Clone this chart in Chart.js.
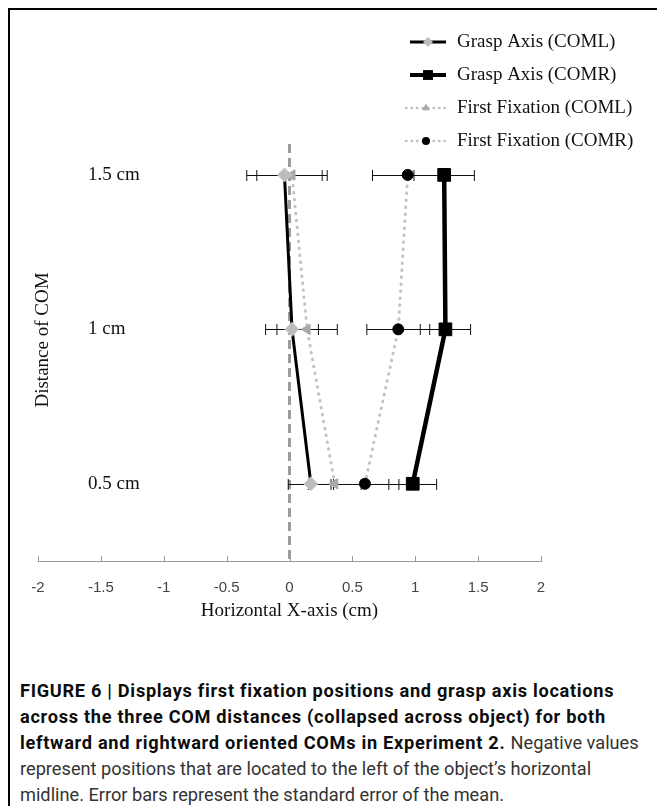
<!DOCTYPE html>
<html><head><meta charset="utf-8">
<script src="https://cdn.jsdelivr.net/npm/chart.js@4.4.1/dist/chart.umd.min.js"></script>
<style>
html,body{margin:0;padding:0;background:#fff;}
body{width:657px;height:806px;position:relative;overflow:hidden;}
#frameTop{position:absolute;left:8px;top:8px;width:649px;height:2px;background:#000;}
#frameLeft{position:absolute;left:8px;top:8px;width:2px;height:798px;background:#000;}
#c{position:absolute;left:0;top:0;}
.cap{position:absolute;left:20px;white-space:nowrap;font-family:Roboto,'Liberation Sans',sans-serif;font-size:18.2px;line-height:26px;}
.b{font-weight:bold;color:#0d0d0d;letter-spacing:0.7px;}
.n{color:#333;font-weight:normal;letter-spacing:0;}
</style></head><body>
<canvas id="c" width="657" height="640"></canvas>
<div id="frameTop"></div><div id="frameLeft"></div>
<div class="cap b" style="top:678px">FIGURE 6 | Displays first fixation positions and grasp axis locations</div>
<div class="cap b" style="top:704px">across the three COM distances (collapsed across object) for both</div>
<div class="cap b" style="top:730px">leftward and rightward oriented COMs in Experiment 2. <span class="n">Negative values</span></div>
<div class="cap n" style="top:756px">represent positions that are located to the left of the object’s horizontal</div>
<div class="cap n" style="top:782px">midline. Error bars represent the standard error of the mean.</div>
<script>
// ---- data ----
const yValues = [0.5, 1, 1.5];
const yLabels = ['0.5 cm', '1 cm', '1.5 cm'];
const xTicks = [-2, -1.5, -1, -0.5, 0, 0.5, 1, 1.5, 2];
const seriesNames = ['Grasp Axis (COML)', 'Grasp Axis (COMR)', 'First Fixation (COML)', 'First Fixation (COMR)'];
const graspCOML = [0.17, 0.02, -0.04];
const graspCOMLErr = [0.18, 0.21, 0.30];
const graspCOMR = [0.98, 1.24, 1.23];
const graspCOMRErr = [0.19, 0.20, 0.24];
const fixCOML = [0.36, 0.14, 0.02];
const fixCOMLErr = [0.21, 0.24, 0.28];
const fixCOMR = [0.60, 0.865, 0.94];
const fixCOMRErr = [0.27, 0.25, 0.28];
const xTitle = 'Horizontal X-axis (cm)';
const yTitle = 'Distance of COM';

const pts = arr => yValues.map((y, i) => ({x: arr[i], y: y}));
const serif = '"Liberation Serif", "Times New Roman", serif';

const datasets = [
  {label: seriesNames[0], data: pts(graspCOML), errors: graspCOMLErr,
   borderColor: '#000', borderWidth: 3, pointStyle: 'rectRot', pointRadius: 7,
   pointBackgroundColor: '#bcbcbc', pointBorderColor: '#cfcfcf', pointBorderWidth: 1,
   legendStyle: {lw: 3, dash: [], color: '#000', marker: 'rectRot', r: 5, fill: '#bcbcbc'}},
  {label: seriesNames[1], data: pts(graspCOMR), errors: graspCOMRErr,
   borderColor: '#000', borderWidth: 4.5, pointStyle: 'rect', pointRadius: 9,
   pointBackgroundColor: '#000', pointBorderColor: '#000', pointBorderWidth: 1,
   legendStyle: {lw: 4, dash: [], color: '#000', marker: 'rect', r: 7, fill: '#000'}},
  {label: seriesNames[2], data: pts(fixCOML), errors: fixCOMLErr,
   borderColor: '#c2c2c2', borderWidth: 3, borderDash: [0.5, 6.5], borderCapStyle: 'round',
   pointStyle: 'triangle', rotation: -90, pointRadius: 6,
   pointBackgroundColor: '#a9a9a9', pointBorderColor: '#a9a9a9', pointBorderWidth: 1,
   legendStyle: {lw: 2.5, dash: [0.5, 5], color: '#c2c2c2', marker: 'triangle', r: 4.5, fill: '#a9a9a9'}},
  {label: seriesNames[3], data: pts(fixCOMR), errors: fixCOMRErr,
   borderColor: '#c2c2c2', borderWidth: 3, borderDash: [0.5, 6.5], borderCapStyle: 'round',
   pointStyle: 'circle', pointRadius: 5.5,
   pointBackgroundColor: '#000', pointBorderColor: '#000', pointBorderWidth: 1,
   legendStyle: {lw: 2.5, dash: [0.5, 5], color: '#c2c2c2', marker: 'circle', r: 4, fill: '#000'}}
];

function marker(ctx, style, x, y, r) {
  ctx.beginPath();
  if (style === 'rect') {
    const s = r * Math.SQRT1_2;
    ctx.rect(x - s, y - s, 2 * s, 2 * s);
  } else if (style === 'rectRot') {
    ctx.moveTo(x, y - r); ctx.lineTo(x + r, y); ctx.lineTo(x, y + r); ctx.lineTo(x - r, y); ctx.closePath();
  } else if (style === 'triangle') {
    ctx.moveTo(x, y - r);
    ctx.lineTo(x + r * Math.sin(2 * Math.PI / 3), y - r * Math.cos(2 * Math.PI / 3));
    ctx.lineTo(x + r * Math.sin(4 * Math.PI / 3), y - r * Math.cos(4 * Math.PI / 3));
    ctx.closePath();
  } else {
    ctx.arc(x, y, r, 0, Math.PI * 2);
  }
  ctx.fill();
}

const decor = {
  id: 'decor',
  beforeDatasetsDraw(chart) {
    const {ctx, chartArea, scales: {x, y}} = chart;
    ctx.save();
    // upward tick marks on x axis
    ctx.strokeStyle = '#9a9a9a'; ctx.lineWidth = 1;
    xTicks.forEach(v => {
      const px = Math.round(x.getPixelForValue(v)) + 0.5;
      ctx.beginPath(); ctx.moveTo(px, chartArea.bottom - 5); ctx.lineTo(px, chartArea.bottom); ctx.stroke();
    });
    // dashed vertical axis at x = 0
    const x0 = x.getPixelForValue(0);
    ctx.strokeStyle = '#9c9c9c'; ctx.lineWidth = 3; ctx.setLineDash([9, 5]);
    ctx.beginPath(); ctx.moveTo(x0, chartArea.top); ctx.lineTo(x0, chartArea.bottom); ctx.stroke();
    ctx.setLineDash([]);
    // error bars
    ctx.strokeStyle = '#111'; ctx.lineWidth = 1;
    chart.data.datasets.forEach(ds => {
      ds.data.forEach((p, i) => {
        const e = ds.errors[i];
        const xa = x.getPixelForValue(p.x - e), xb = x.getPixelForValue(p.x + e);
        const py = Math.round(y.getPixelForValue(p.y)) + 0.5;
        ctx.beginPath();
        ctx.moveTo(xa, py); ctx.lineTo(xb, py);
        ctx.moveTo(xa, py - 5.5); ctx.lineTo(xa, py + 5.5);
        ctx.moveTo(xb, py - 5.5); ctx.lineTo(xb, py + 5.5);
        ctx.stroke();
      });
    });
    ctx.restore();
  },
  afterDraw(chart) {
    const {ctx} = chart;
    ctx.save();
    // y axis title
    ctx.translate(43, 340);
    ctx.rotate(-Math.PI / 2);
    ctx.font = '19px ' + serif;
    ctx.fillStyle = '#111';
    ctx.textAlign = 'center'; ctx.textBaseline = 'middle';
    ctx.fillText(yTitle, 0, 0);
    ctx.restore();
    // legend
    ctx.save();
    const rows = [42, 75, 108, 141];
    chart.data.datasets.forEach((ds, i) => {
      const ls = ds.legendStyle, yy = rows[i];
      ctx.strokeStyle = ls.color; ctx.lineWidth = ls.lw; ctx.setLineDash(ls.dash);
      ctx.lineCap = ls.dash.length ? 'round' : 'butt';
      ctx.beginPath(); ctx.moveTo(ls.dash.length ? 406 : 410, yy); ctx.lineTo(446, yy); ctx.stroke();
      ctx.setLineDash([]);
      ctx.fillStyle = ls.fill;
      marker(ctx, ls.marker, ls.dash.length ? 426 : 428, yy, ls.r);
      ctx.fillStyle = '#111';
      ctx.font = '19px ' + serif;
      ctx.textAlign = 'left'; ctx.textBaseline = 'middle';
      ctx.fillText(ds.label, 457, yy);
    });
    ctx.restore();
  }
};

new Chart(document.getElementById('c'), {
  type: 'line',
  data: {datasets: datasets},
  options: {
    responsive: false,
    animation: false,
    devicePixelRatio: 1,
    layout: {padding: {left: 38, right: 116, top: 144, bottom: 14}},
    plugins: {legend: {display: false}, tooltip: {enabled: false}},
    scales: {
      x: {
        type: 'linear', min: -2, max: 2,
        afterBuildTicks: s => { s.ticks = xTicks.map(v => ({value: v})); },
        afterFit: s => { s.height = 65; },
        grid: {display: false, drawTicks: false},
        border: {display: true, color: '#9a9a9a', width: 1},
        ticks: {padding: 18, color: '#444', font: {family: '"Liberation Sans", Arial, sans-serif', size: 15},
                callback: v => String(v), maxRotation: 0, autoSkip: false},
        title: {display: true, text: xTitle, color: '#111', font: {family: serif, size: 19},
                padding: {top: 0, bottom: 4}}
      },
      y: {
        type: 'linear', min: 0.25, max: 1.6,
        afterBuildTicks: s => { s.ticks = yValues.map(v => ({value: v})); },
        afterFit: s => { s.width = 0; },
        grid: {display: false, drawTicks: false},
        border: {display: false},
        ticks: {mirror: true, padding: 50, color: '#111', font: {family: serif, size: 19},
                callback: v => yLabels[yValues.indexOf(v)]}
      }
    }
  },
  plugins: [decor]
});
</script>
</body></html>
